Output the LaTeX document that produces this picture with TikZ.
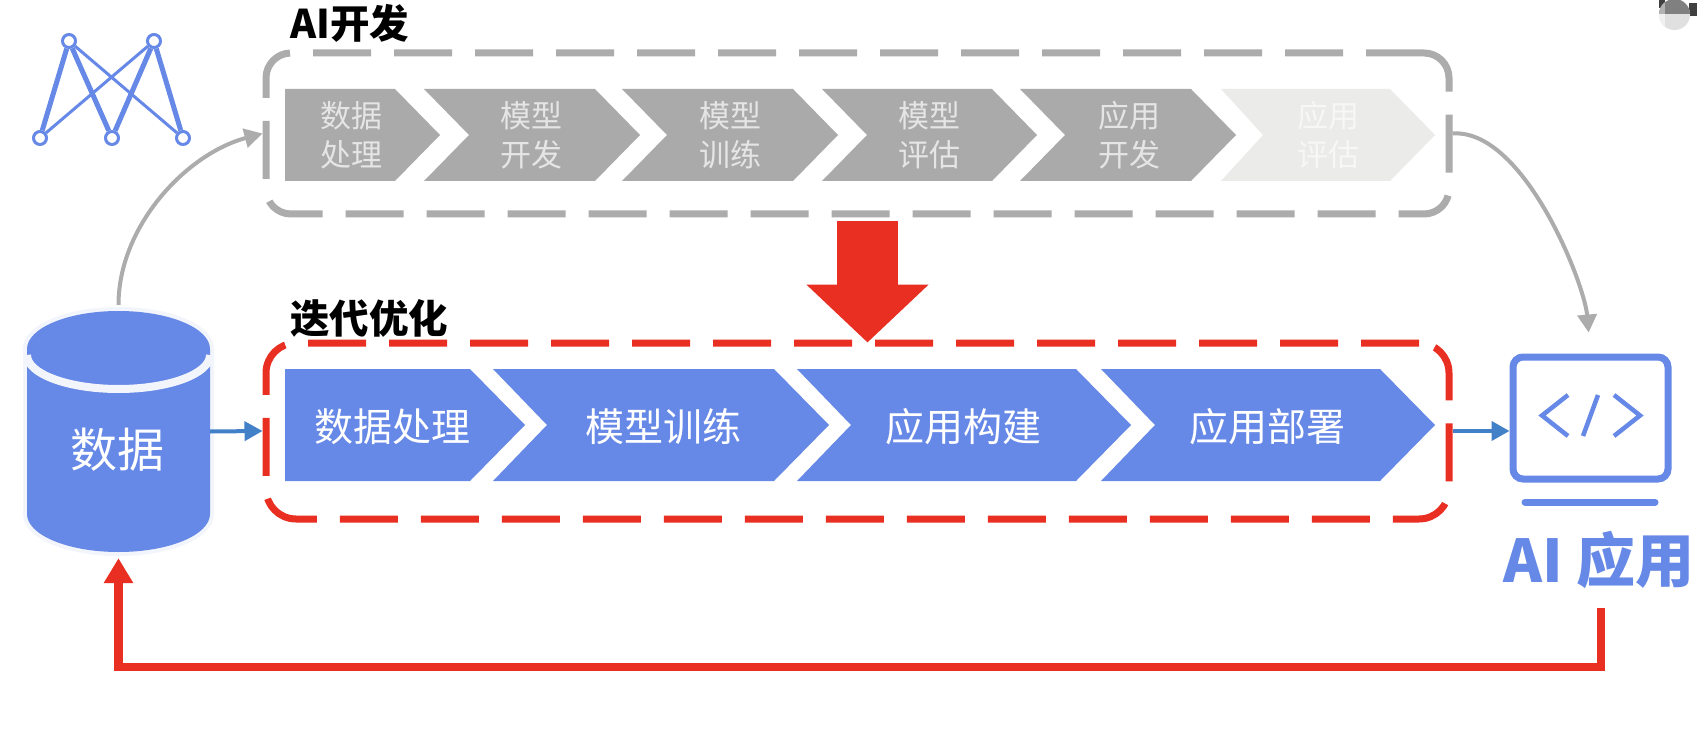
\documentclass[tikz,border=0pt]{standalone}
\usepackage{fontspec}
\usepackage{xcolor}
\usepackage{tikz}
\usetikzlibrary{arrows.meta, positioning, calc}
\newfontfamily\cjk{Noto Sans CJK SC}
\definecolor{accent}{RGB}{102,136,230}
\definecolor{halo}{RGB}{243,245,252}
\definecolor{flowblue}{RGB}{66,128,200}
\definecolor{alert}{RGB}{233,46,34}
\definecolor{stagegray}{RGB}{170,170,171}
\definecolor{stagefade}{RGB}{235,235,234}
\definecolor{linegray}{RGB}{172,172,172}
\tikzset{
  framebox/.style={rounded corners=#1, line width=7pt, dash pattern=on 58pt off 23pt,
                   inner sep=0pt},
  graylabel/.style={font=\cjk\fontsize{31}{39}\selectfont, text=#1, align=center, inner sep=0pt},
  bluelabel/.style={font=\cjk\fontsize{39}{44}\selectfont, text=white, inner sep=0pt},
  titlelabel/.style={font=\cjk\bfseries\fontsize{39.5}{44}\selectfont, text=black, inner sep=0pt},
  curve/.style={-{Triangle[length=18pt, width=19pt]}, line width=4pt, linegray},
  feed/.style={-{Triangle[length=18pt, width=19pt]}, line width=4pt, flowblue},
  dot/.style={circle, draw=accent, fill=white, line width=3pt, minimum size=13pt, inner sep=0pt}
}
% left x, notch depth, top right x, y top, y bottom, tip depth
\newcommand{\stage}[7]{
  \fill[#1] (#2,#5) -- (#4,#5) -- ({#4+#7},{(#5+#6)/2}) -- (#4,#6) -- (#2,#6)
    -- ({#2+#3},{(#5+#6)/2}) -- cycle;
}
\begin{document}
\begin{tikzpicture}[x=1pt, y=-1pt]
  \useasboundingbox[fill=white] (0,0) rectangle (1697,730);

  % screen corner mark
  \fill[black!75] (1659,0) rectangle (1665,8);
  \fill[black!75] (1689,3) rectangle (1697,16);
  \begin{scope}
    \clip (1674.5,14.5) circle (15.5pt);
    \fill[black!12] (1650,-2) rectangle (1697,32);
    \fill[black!50] (1650,-2) rectangle (1697,14);
    \fill[black!30] (1650,-2) rectangle (1665,14);
    \fill[black!6] (1650,14) rectangle (1665,32);
  \end{scope}

  % network mark
  \node[dot] (netA) at (69,41) {};
  \node[dot] (netB) at (154,41) {};
  \node[dot] (netC) at (40,138) {};
  \node[dot] (netD) at (112,138) {};
  \node[dot] (netE) at (183,138) {};
  \draw[accent, line width=5pt] (netA) -- (netC);
  \draw[accent, line width=5pt] (netA) -- (netD);
  \draw[accent, line width=5pt] (netB) -- (netD);
  \draw[accent, line width=5pt] (netB) -- (netE);
  \draw[accent, line width=3pt] (netA) -- (netE);
  \draw[accent, line width=3pt] (netB) -- (netC);

  % upper row
  \stage{stagegray}{285}{0}{395}{89}{181}{45}
  \stage{stagegray}{424}{45}{595}{89}{181}{45}
  \stage{stagegray}{622}{45}{793}{89}{181}{45}
  \stage{stagegray}{822}{45}{992}{89}{181}{45}
  \stage{stagegray}{1020}{45}{1191}{89}{181}{45}
  \stage{stagefade}{1221}{42}{1390}{89}{181}{45}
  \node[graylabel=black!10] (devA) at (351,135) {数据\\处理};
  \node[graylabel=black!10] (devB) at (531,135) {模型\\开发};
  \node[graylabel=black!10] (devC) at (730,135) {模型\\训练};
  \node[graylabel=black!10] (devD) at (929,135) {模型\\评估};
  \node[graylabel=black!10] (devE) at (1129,135) {应用\\开发};
  \node[graylabel=black!3] (devF) at (1328,135) {应用\\评估};
  \node[draw=linegray, framebox=25pt, minimum width=1183pt, minimum height=161pt]
    (aidev) at (857.5,133.5) {};
  \node[titlelabel, anchor=west] (aidevtitle) at (290,23) {AI开发};

  % lower row
  \stage{accent}{285}{0}{470}{369}{481}{55}
  \stage{accent}{493}{54}{774}{369}{481}{55}
  \stage{accent}{797}{54}{1076}{369}{481}{55}
  \stage{accent}{1101}{54}{1380}{369}{481}{55}
  \node[bluelabel] (optA) at (392,427) {数据处理};
  \node[bluelabel] (optB) at (663,427) {模型训练};
  \node[bluelabel] (optC) at (963,427) {应用构建};
  \node[bluelabel] (optD) at (1267,427) {应用部署};
  \node[draw=alert, framebox=30pt, minimum width=1183pt, minimum height=176pt]
    (iter) at (857.5,431) {};
  \node[titlelabel, anchor=west] (itertitle) at (290,318) {迭代优化};

  % data cylinder
  \path[draw=halo, line width=8pt, postaction={fill=accent}] (27,349)
    arc[x radius=91.5pt, y radius=38pt, start angle=180, end angle=0]
    -- (210,514) arc[x radius=91.5pt, y radius=38pt, start angle=0, end angle=-180] -- cycle;
  \draw[halo, line width=8pt] (27,355)
    arc[x radius=91.5pt, y radius=34pt, start angle=180, end angle=360];
  \node[minimum width=183pt, minimum height=253pt, inner sep=0pt] (db) at (118.5,431.5) {};
  \node[font=\cjk\fontsize{47}{50}\selectfont, text=white, inner sep=0pt] (dbtext) at (117,450) {数据};

  % application icon
  \node[draw=accent, line width=7pt, rounded corners=10pt, minimum width=155pt,
        minimum height=122pt, inner sep=0pt] (screen) at (1590.5,418) {};
  \node[font=\cjk\bfseries\fontsize{59}{64}\selectfont, text=accent, inner sep=0pt]
    (appname) at (1599,560) {AI 应用};
  \draw[accent, line width=7pt, line cap=round] (1525,502) -- (1655,502);
  \draw[accent, line width=4.5pt] (1568,395) -- (1542,415.5) -- (1568,436);
  \draw[accent, line width=4.5pt] (1598,395) -- (1583,436);
  \draw[accent, line width=4.5pt] (1614,395) -- (1640,415.5) -- (1614,436);

  % connectors
  \draw[curve] (db.north) to[out=90, in=195, looseness=0.9] (aidev.west);
  \draw[curve, shorten >=21pt] (aidev.east) to[out=4, in=95, looseness=0.7] (screen.north);
  \draw[feed] (db.east) -- (iter.west);
  \draw[feed] (iter.east) -- (iter.east -| screen.west);
  \draw[-{Triangle[length=58pt, width=119pt]}, line width=61pt, alert]
    ($(aidev.south)+(10,4)$) -- ($(iter.north)+(10,3)$);
  \coordinate (backstart) at (1601,608);
  \draw[-{Triangle[length=25pt, width=28pt]}, line width=8.5pt, alert, miter limit=4]
    (backstart) -- ++(0,59) -| (db.south);
\end{tikzpicture}
\end{document}
